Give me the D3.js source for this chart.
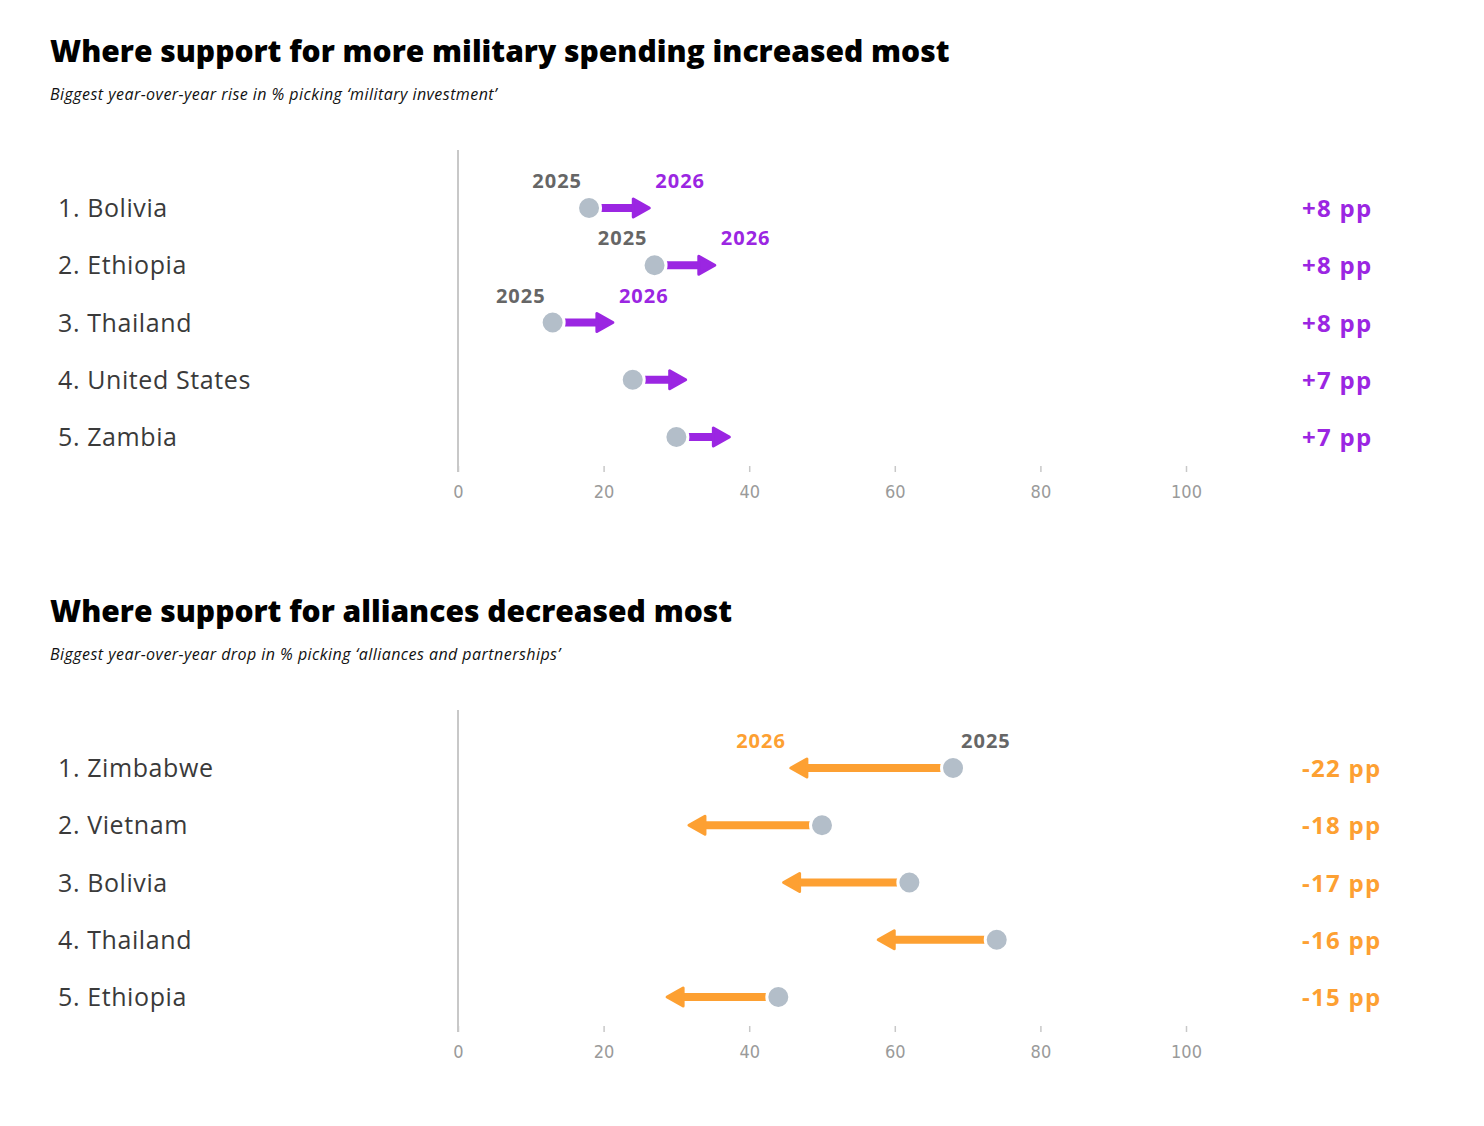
<!DOCTYPE html>
<html>
<head>
<meta charset="utf-8">
<script src="https://cdn.jsdelivr.net/npm/d3@7"></script>
<style>
  body { margin: 0; background: #fff; }
  svg { display: block; }
  .title { font-family: 'Open Sans', sans-serif; font-weight: 800; font-size: 30px; fill: #000; }
  .subtitle { font-family: 'Open Sans', sans-serif; font-style: italic; font-size: 16px; letter-spacing: 0.45px; fill: #111; }
  .country { font-family: 'Open Sans', sans-serif; font-size: 25px; letter-spacing: 0.6px; fill: #3a3a3a; }
  .change { font-family: 'Open Sans', sans-serif; font-weight: 700; font-size: 24px; letter-spacing: 1.3px; }
  .year { font-family: 'Open Sans', sans-serif; font-weight: 700; font-size: 20px; letter-spacing: 1px; }
  .axis text { font-family: 'Liberation Sans Narrow', 'DejaVu Sans Condensed', sans-serif; font-size: 18px; fill: #9a9a9a; }
  .axis line { stroke: #c8c8c8; stroke-width: 1.5; }
</style>
</head>
<body>
<div id="chart"></div>
<script>
// data
var upCountries = ['Bolivia', 'Ethiopia', 'Thailand', 'United States', 'Zambia'];
var up2025 = [18, 27, 13, 24, 30];
var up2026 = [26, 35, 21, 31, 37];

var downCountries = ['Zimbabwe', 'Vietnam', 'Bolivia', 'Thailand', 'Ethiopia'];
var down2025 = [68, 50, 62, 74, 44];
var down2026 = [46, 32, 45, 58, 29];

var xTicks = [0, 20, 40, 60, 80, 100];

var purple = '#9b26e2',
    orange = '#fda032',
    dotColor = '#b3bec9',
    yearGray = '#666';

var width = 1484, height = 1126;

var svg = d3.select('#chart').append('svg')
  .attr('width', width)
  .attr('height', height);

var x = d3.scaleLinear().domain([0, 100]).range([458, 1186]);

function panel(opts) {
  var g = svg.append('g')
    .attr('transform', 'translate(0,' + opts.top + ')');

  g.append('text')
    .attr('class', 'title')
    .attr('x', 50)
    .attr('y', 62)
    .text(opts.title);

  g.append('text')
    .attr('class', 'subtitle')
    .attr('x', 50)
    .attr('y', 100)
    .text(opts.subtitle);

  var rows = opts.countries.map((c, i) => ({
    name: c,
    rank: i + 1,
    from: opts.from[i],
    to: opts.to[i]
  }));

  var y = d3.scalePoint()
    .domain(rows.map(d => d.name))
    .range([208, 437]);

  // vertical baseline
  g.append('line')
    .attr('x1', x(0)).attr('x2', x(0))
    .attr('y1', 150).attr('y2', 472)
    .attr('stroke', '#c8c8c8')
    .attr('stroke-width', 2);

  // x axis (ticks only, no domain line)
  var xAxis = d3.axisBottom(x)
    .tickValues(xTicks)
    .tickSize(6)
    .tickPadding(13)
    .tickFormat(d3.format('d'));

  var ax = g.append('g')
    .attr('class', 'axis')
    .attr('transform', 'translate(0,466)')
    .call(xAxis);
  ax.select('.domain').remove();

  // country names
  g.selectAll('.country')
    .data(rows)
    .enter()
    .append('text')
    .attr('class', 'country')
    .attr('x', 58)
    .attr('y', d => y(d.name) + 9)
    .text(d => d.rank + '. ' + d.name);

  // change labels
  g.selectAll('.change')
    .data(rows)
    .enter()
    .append('text')
    .attr('class', 'change')
    .attr('x', 1302)
    .attr('y', d => y(d.name) + 9)
    .attr('fill', opts.color)
    .text(d => {
      var v = d.to - d.from;
      return (v > 0 ? '+' : '') + v + ' pp';
    });

  var headLen = 16, headHalf = 9;

  // arrow shafts
  g.selectAll('.shaft')
    .data(rows)
    .enter()
    .append('line')
    .attr('class', 'shaft')
    .attr('x1', d => x(d.from))
    .attr('x2', d => {
      var dir = d.to > d.from ? 1 : -1;
      return x(d.to) + dir * 2 - dir * (headLen - 1);
    })
    .attr('y1', d => y(d.name))
    .attr('y2', d => y(d.name))
    .attr('stroke', opts.color)
    .attr('stroke-width', 8);

  // arrow heads
  g.selectAll('.head')
    .data(rows)
    .enter()
    .append('path')
    .attr('class', 'head')
    .attr('d', d => {
      var dir = d.to > d.from ? 1 : -1;
      var tip = x(d.to) + dir * 2;
      var base = tip - dir * headLen;
      var cy = y(d.name);
      return 'M' + tip + ',' + cy +
        'L' + base + ',' + (cy - headHalf) +
        'L' + base + ',' + (cy + headHalf) + 'Z';
    })
    .attr('fill', opts.color)
    .attr('stroke', opts.color)
    .attr('stroke-width', 3)
    .attr('stroke-linejoin', 'round');

  // 2025 dots
  g.selectAll('.dot')
    .data(rows)
    .enter()
    .append('circle')
    .attr('class', 'dot')
    .attr('cx', d => x(d.from))
    .attr('cy', d => y(d.name))
    .attr('r', 11.5)
    .attr('fill', dotColor)
    .attr('stroke', '#fff')
    .attr('stroke-width', 3);

  // year labels on the first rows
  var labelled = rows.slice(0, opts.yearRows);

  g.selectAll('.year-from')
    .data(labelled)
    .enter()
    .append('text')
    .attr('class', 'year')
    .attr('x', d => d.to > d.from ? x(d.from) - 7 : x(d.from) + 8)
    .attr('y', d => y(d.name) - 20)
    .attr('text-anchor', d => d.to > d.from ? 'end' : 'start')
    .attr('fill', yearGray)
    .text('2025');

  g.selectAll('.year-to')
    .data(labelled)
    .enter()
    .append('text')
    .attr('class', 'year')
    .attr('x', d => d.to > d.from ? x(d.to) + 8 : x(d.to) - 7)
    .attr('y', d => y(d.name) - 20)
    .attr('text-anchor', d => d.to > d.from ? 'start' : 'end')
    .attr('fill', opts.color)
    .text('2026');
}

panel({
  top: 0,
  title: 'Where support for more military spending increased most',
  subtitle: 'Biggest year-over-year rise in % picking \u2018military investment\u2019',
  countries: upCountries,
  from: up2025,
  to: up2026,
  color: purple,
  yearRows: 3
});

panel({
  top: 560,
  title: 'Where support for alliances decreased most',
  subtitle: 'Biggest year-over-year drop in % picking \u2018alliances and partnerships\u2019',
  countries: downCountries,
  from: down2025,
  to: down2026,
  color: orange,
  yearRows: 1
});
</script>
</body>
</html>
